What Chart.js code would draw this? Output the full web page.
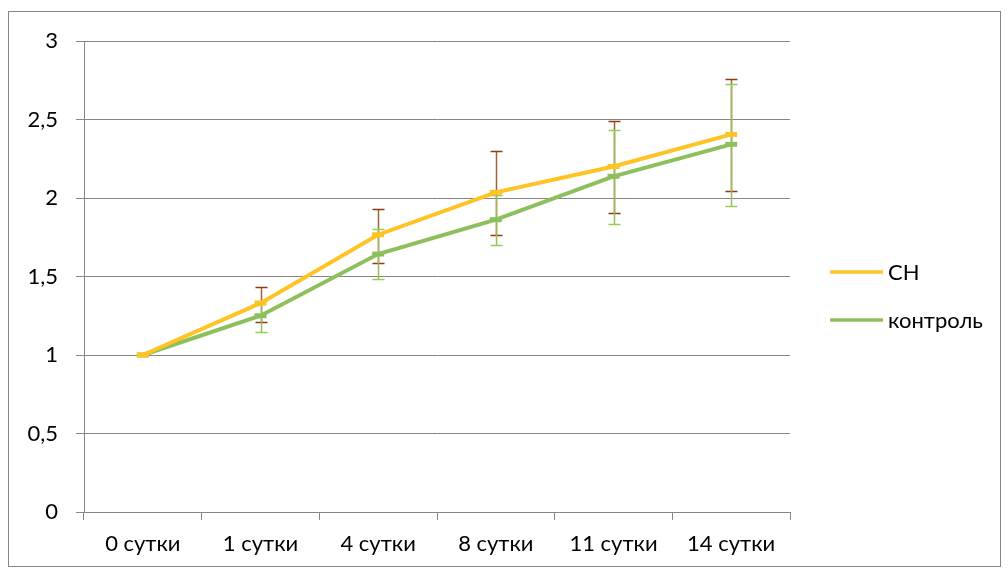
<!DOCTYPE html>
<html>
<head>
<meta charset="utf-8">
<script src="https://cdn.jsdelivr.net/npm/chart.js@4"></script>
<style>
html,body{margin:0;padding:0;background:#fff;}
#frame{position:absolute;left:8px;top:11px;width:991px;height:554px;border:1px solid #868686;}
#c{position:absolute;left:0;top:0;}
</style>
</head>
<body>
<div id="frame"></div>
<canvas id="c" width="1008" height="574"></canvas>
<script>
const categories = ['0 сутки','1 сутки','4 сутки','8 сутки','11 сутки','14 сутки'];
const seriesNames = ['СН','контроль'];
const chValues = [1.0, 1.33, 1.766, 2.036, 2.201, 2.405];
const chErrTop = [1.0, 1.433, 1.928, 2.297, 2.488, 2.758];
const chErrBottom = [1.0, 1.21, 1.588, 1.767, 1.905, 2.047];
const ctrlValues = [1.0, 1.25, 1.643, 1.862, 2.138, 2.342];
const ctrlErrTop = [1.0, 1.346, 1.805, 2.016, 2.433, 2.726];
const ctrlErrBottom = [1.0, 1.144, 1.482, 1.703, 1.834, 1.952];
const yTicks = [0, 0.5, 1, 1.5, 2, 2.5, 3];

const FONT = 'Lato, "Open Sans", sans-serif';
const FSIZE = 22;

const errorBarPlugin = {
  id: 'errorBars',
  beforeDatasetsDraw(chart) {
    const ctx = chart.ctx;
    const x = chart.scales.x, y = chart.scales.y;
    const sets = [
      {top: chErrTop, bottom: chErrBottom, line: '#a0603a', cap: '#8a3e10'},
      {top: ctrlErrTop, bottom: ctrlErrBottom, line: '#9bbb59', cap: '#92d050'}
    ];
    ctx.save();
    sets.forEach(s => {
      categories.forEach((c, i) => {
        if (s.top[i] === s.bottom[i]) return;
        const px = Math.round(x.getPixelForValue(i)) + 0.5;
        const yt = Math.round(y.getPixelForValue(s.top[i])) + 0.5;
        const yb = Math.round(y.getPixelForValue(s.bottom[i])) + 0.5;
        ctx.strokeStyle = s.line;
        ctx.lineWidth = 1.5;
        ctx.beginPath(); ctx.moveTo(px, yt); ctx.lineTo(px, yb); ctx.stroke();
        ctx.strokeStyle = s.cap;
        ctx.lineWidth = 1.5;
        ctx.beginPath();
        ctx.moveTo(px - 6, yt); ctx.lineTo(px + 6, yt);
        ctx.moveTo(px - 6, yb); ctx.lineTo(px + 6, yb);
        ctx.stroke();
      });
    });
    ctx.restore();
  }
};

const legendPlugin = {
  id: 'customLegend',
  afterDraw(chart) {
    const ctx = chart.ctx;
    ctx.save();
    ctx.font = FSIZE + 'px ' + FONT;
    ctx.textBaseline = 'middle';
    ctx.fillStyle = '#000';
    chart.data.datasets.forEach((ds, i) => {
      const yy = 272 + i * 48;
      ctx.strokeStyle = ds.borderColor;
      ctx.lineWidth = 3.5;
      ctx.beginPath(); ctx.moveTo(830, yy); ctx.lineTo(883, yy); ctx.stroke();
      ctx.fillText(ds.label, 888, yy + 1);
    });
    ctx.restore();
  }
};

new Chart(document.getElementById('c'), {
  type: 'line',
  data: {
    labels: categories,
    datasets: [
      {label: seriesNames[0], data: chValues, borderColor: '#ffc325', backgroundColor: '#ffc325',
       borderWidth: 4, pointStyle: 'line', pointRadius: 6, pointBorderWidth: 5, pointBorderColor: '#ffc325', tension: 0},
      {label: seriesNames[1], data: ctrlValues, borderColor: '#8dc05d', backgroundColor: '#8dc05d',
       borderWidth: 4, pointStyle: 'line', pointRadius: 6, pointBorderWidth: 5, pointBorderColor: '#8dc05d', tension: 0}
    ]
  },
  options: {
    responsive: false,
    animation: false,
    layout: {padding: {left: 0, right: 218, top: 41, bottom: 0}},
    plugins: {legend: {display: false}, tooltip: {enabled: false}},
    scales: {
      x: {
        offset: true,
        grid: {offset: true, drawOnChartArea: false, drawTicks: true, tickLength: 8, color: '#868686', lineWidth: 1},
        border: {display: true, color: '#868686', width: 1},
        ticks: {font: {family: FONT, size: FSIZE}, color: '#000', padding: 11, maxRotation: 0},
        afterFit(s) { s.height = 62; }
      },
      y: {
        min: 0, max: 3,
        afterBuildTicks(s) { s.ticks = yTicks.map(v => ({value: v})); },
        grid: {drawTicks: true, tickLength: 8, color: '#868686', lineWidth: 1},
        border: {display: true, color: '#868686', width: 1},
        ticks: {font: {family: FONT, size: FSIZE}, color: '#000', padding: 18,
                callback: v => String(v).replace('.', ',')},
        afterFit(s) { s.width = 84; }
      }
    }
  },
  plugins: [errorBarPlugin, legendPlugin]
});
</script>
</body>
</html>
